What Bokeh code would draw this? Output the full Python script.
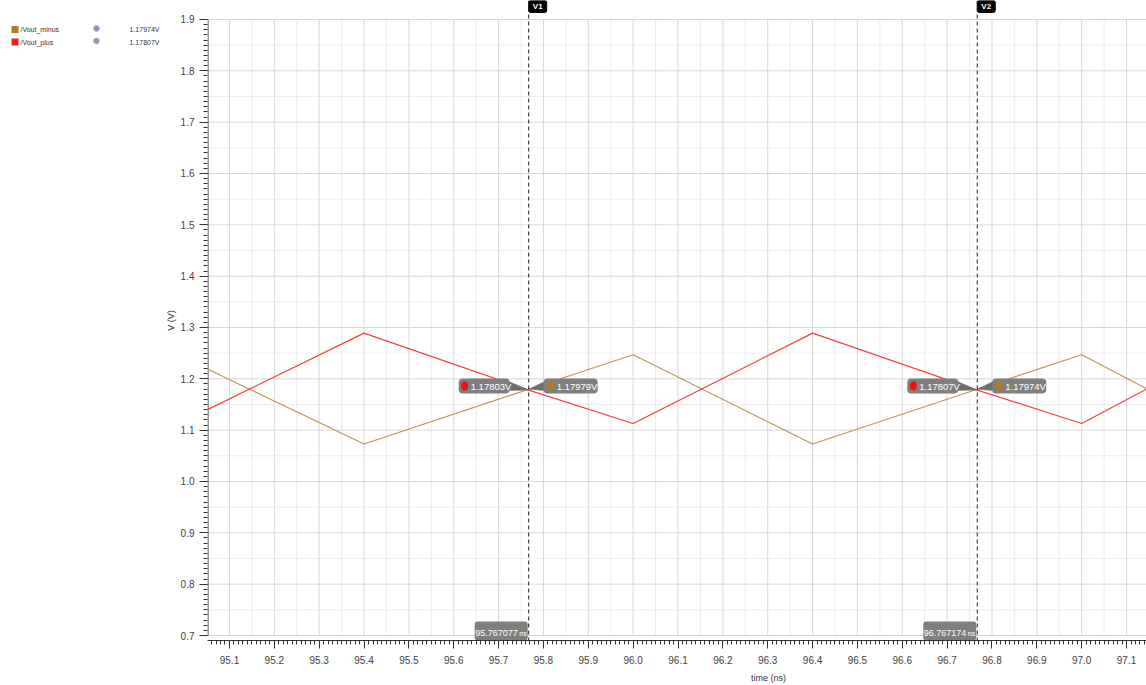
from bokeh.plotting import figure
from bokeh.layouts import row, column
from bokeh.models import Label, Span, FixedTicker, Range1d
from bokeh.embed import file_html
from bokeh.resources import INLINE

# ---- waveform samples (time in ns, voltage in V) ----
t_plus = [95.051, 95.4, 95.767077, 96.0, 96.4, 96.767174, 97.0, 97.1445]
v_plus = [1.140, 1.289, 1.17803, 1.113, 1.289, 1.17807, 1.113, 1.180]

t_minus = [95.051, 95.4, 95.767077, 96.0, 96.4, 96.767174, 97.0, 97.1445]
v_minus = [1.219, 1.073, 1.17979, 1.247, 1.073, 1.17974, 1.247, 1.181]

# vertical cursors and the values read at them
cursor_names = ["V1", "V2"]
cursor_times = [95.767077, 96.767174]
cursor_time_labels = ["95.767077", "96.767174"]
plus_at_cursor = [1.17803, 1.17807]
minus_at_cursor = [1.17979, 1.17974]
plus_at_labels = ["1.17803V", "1.17807V"]
minus_at_labels = ["1.17979V", "1.17974V"]

# legend rows
legend_names = ["/Vout_minus", "/Vout_plus"]
legend_values = ["1.17974V", "1.17807V"]

# axis ticks
x_ticks = [95.1, 95.2, 95.3, 95.4, 95.5, 95.6, 95.7, 95.8, 95.9, 96.0, 96.1,
           96.2, 96.3, 96.4, 96.5, 96.6, 96.7, 96.8, 96.9, 97.0, 97.1]
x_tick_labels = ["95.1", "95.2", "95.3", "95.4", "95.5", "95.6", "95.7", "95.8",
                 "95.9", "96.0", "96.1", "96.2", "96.3", "96.4", "96.5", "96.6",
                 "96.7", "96.8", "96.9", "97.0", "97.1"]
y_ticks = [0.7, 0.8, 0.9, 1.0, 1.1, 1.2, 1.3, 1.4, 1.5, 1.6, 1.7, 1.8, 1.9]
y_tick_labels = ["0.7", "0.8", "0.9", "1.0", "1.1", "1.2", "1.3", "1.4", "1.5",
                 "1.6", "1.7", "1.8", "1.9"]

PLUS_COLOR = "#ff3b3b"
MINUS_COLOR = "#bf9553"
PLUS_DOT = "#ee1111"
MINUS_DOT = "#b07c28"
FONT = "Liberation Sans"

# ---- page geometry ----
W, H = 1146, 685
LEG_W = 160                 # legend column on the left
FL, FW, FH = 207, 939, 640  # plot frame: left edge, width, height (page px)
MAIN_H = 670                # main figure height (frame + tick labels)
STRIP_H = H - MAIN_H        # strip holding the x-axis title
X0, X1 = 95.051, 97.1445
Y0, Y1 = 0.69026, 1.93701


def xs(px):
    """page x pixel -> time"""
    return X0 + (px - FL) * (X1 - X0) / FW


def dx(px):
    return px * (X1 - X0) / FW


def ys(py):
    """page y pixel -> volts"""
    return Y1 - py * (Y1 - Y0) / FH


def bare(fig):
    fig.axis.visible = False
    fig.grid.visible = False
    fig.outline_line_color = None
    fig.background_fill_color = "white"
    fig.border_fill_color = "white"
    fig.min_border = 0
    return fig


p = figure(width=W - LEG_W, height=MAIN_H, x_range=Range1d(X0, X1),
           y_range=Range1d(Y0, Y1), output_backend="svg", toolbar_location=None,
           min_border_left=FL - LEG_W, min_border_right=0, min_border_top=0,
           min_border_bottom=MAIN_H - FH)
p.outline_line_color = None
p.xgrid.visible = False
p.ygrid.visible = False
p.background_fill_color = "white"
p.border_fill_color = "white"

# ---- grid (limited to the 0.7 .. 1.9 V band) ----
ymin, ymax = y_ticks[0], y_ticks[-1]
minor_y = [y + 0.05 for y in y_ticks[:-1]]
minor_x = [x + 0.05 for x in x_ticks[:-1]]
minor_x = [x for x in minor_x if X0 < x < X1]
p.segment(x0=[X0] * len(minor_y), y0=minor_y, x1=[X1] * len(minor_y), y1=minor_y,
          line_color="#dadada", line_width=1, line_dash="1 1")
p.segment(x0=minor_x, y0=[ymin] * len(minor_x), x1=minor_x, y1=[ymax] * len(minor_x),
          line_color="#dadada", line_width=1, line_dash="1 1")
p.segment(x0=[X0] * len(y_ticks), y0=y_ticks, x1=[X1] * len(y_ticks), y1=y_ticks,
          line_color="#d8d8d8", line_width=1)
p.segment(x0=x_ticks, y0=[ymin] * len(x_ticks), x1=x_ticks, y1=[ymax] * len(x_ticks),
          line_color="#d8d8d8", line_width=1)

# y axis spine, only over the labelled band
p.line([xs(FL + 0.5)] * 2, [ymin, ymax], line_color="#333333", line_width=1)

# ---- waveforms ----
p.line(t_minus, v_minus, line_color=MINUS_COLOR, line_width=1.2)
p.line(t_plus, v_plus, line_color=PLUS_COLOR, line_width=1.2)

# ---- axes ----
xa = p.xaxis[0]
xa.ticker = FixedTicker(ticks=x_ticks,
                        minor_ticks=[round(95.05 + 0.01 * i, 2) for i in range(211)])
xa.major_label_overrides = {t: s for t, s in zip(x_ticks, x_tick_labels)}
ya = p.yaxis[0]
ya.ticker = FixedTicker(ticks=y_ticks,
                        minor_ticks=[round(0.7 + 0.01 * i, 2) for i in range(121)])
ya.major_label_overrides = {t: s for t, s in zip(y_ticks, y_tick_labels)}
ya.axis_label = "V (V)"
for ax in (xa, ya):
    ax.major_tick_in = 0
    ax.minor_tick_in = 0
    ax.major_tick_out = 8
    ax.minor_tick_out = 4
    ax.major_tick_line_color = "#333333"
    ax.minor_tick_line_color = "#333333"
    ax.major_label_text_font = FONT
    ax.major_label_text_font_size = "10px"
    ax.major_label_text_color = "#444444"
    ax.axis_label_text_font = FONT
    ax.axis_label_text_font_size = "9px"
    ax.axis_label_text_font_style = "normal"
    ax.axis_label_text_color = "#333333"
xa.axis_line_color = "#333333"
ya.axis_line_color = None
xa.major_label_standoff = 7
ya.major_label_standoff = 5
ya.axis_label_standoff = 2

# ---- cursors ----
for name, t, tlab, vp, vm, lp, lm in zip(cursor_names, cursor_times, cursor_time_labels,
                                         plus_at_cursor, minus_at_cursor,
                                         plus_at_labels, minus_at_labels):
    p.add_layout(Span(location=t, dimension="height", line_color="#222222",
                      line_width=1, line_dash="4 3"))
    # name tag on top
    p.quad(left=t, right=t + dx(18), top=ys(0), bottom=ys(12),
           fill_color="black", line_color="black", border_radius=2)
    p.add_layout(Label(x=t + dx(9), y=ys(6), text=name, text_color="white",
                       text_font=FONT, text_font_size="8px", text_font_style="bold",
                       text_align="center", text_baseline="middle"))
    # time readout at the bottom
    p.quad(left=t - dx(54), right=t - dx(1), top=ys(621), bottom=ys(640),
           fill_color="#7f7f7f", line_color=None, border_radius=3)
    p.add_layout(Label(x=t - dx(11), y=ys(632), text=tlab, text_color="white",
                       text_font=FONT, text_font_size="9px",
                       text_align="right", text_baseline="middle"))
    p.add_layout(Label(x=t - dx(2), y=ys(632.5), text="ns", text_color="white",
                       text_font=FONT, text_font_size="7px",
                       text_align="right", text_baseline="middle"))
    # value readouts with pointers to the crossing
    yc_top, yc_bot, yc_mid = ys(378), ys(393), ys(385.5)
    p.patch([t - dx(20), t - dx(20), t], [ys(381), ys(390), vp],
            fill_color="#6e6e6e", line_color="#6e6e6e", line_width=0.5)
    p.patch([t + dx(16), t + dx(16), t], [ys(381), ys(390), vm],
            fill_color="#6e6e6e", line_color="#6e6e6e", line_width=0.5)
    p.quad(left=t - dx(70), right=t - dx(19), top=yc_top, bottom=yc_bot,
           fill_color="#7f7f7f", line_color=None, border_radius=4)
    p.quad(left=t + dx(15), right=t + dx(69), top=yc_top, bottom=yc_bot,
           fill_color="#7f7f7f", line_color=None, border_radius=4)
    p.ellipse(x=[t - dx(64)], y=[yc_mid], width=dx(7), height=(Y1 - Y0) * 9 / FH,
              fill_color=PLUS_DOT, line_color=None)
    p.ellipse(x=[t + dx(22)], y=[yc_mid], width=dx(7), height=(Y1 - Y0) * 9 / FH,
              fill_color=MINUS_DOT, line_color=None)
    p.add_layout(Label(x=t - dx(58), y=yc_mid, text=lp, text_color="white",
                       text_font=FONT, text_font_size="9.5px",
                       text_align="left", text_baseline="middle"))
    p.add_layout(Label(x=t + dx(28), y=yc_mid, text=lm, text_color="white",
                       text_font=FONT, text_font_size="9.5px",
                       text_align="left", text_baseline="middle"))

# ---- legend column (page pixel coordinates) ----
leg = bare(figure(width=LEG_W, height=H, x_range=Range1d(0, LEG_W),
                  y_range=Range1d(H, 0), output_backend="svg",
                  toolbar_location=None))
for i, (nm, val, col) in enumerate(zip(legend_names, legend_values,
                                       [MINUS_DOT, "#ff1a1a"])):
    yrow = 29 + 12.5 * i
    leg.rect(x=[14.5], y=[yrow], width=7, height=7, fill_color=col, line_color=None)
    leg.add_layout(Label(x=20, y=yrow, text=nm, text_color="#333333",
                         text_font=FONT, text_font_size="7px",
                         text_align="left", text_baseline="middle"))
    leg.scatter(x=[96], y=[yrow - 1], size=6, marker="circle",
                fill_color="#8797b5", line_color="#b9c3d6", line_width=1)
    leg.add_layout(Label(x=LEG_W - 1, y=yrow, text=val, text_color="#333333",
                         text_font=FONT, text_font_size="7px",
                         text_align="right", text_baseline="middle"))

# ---- x-axis title strip under the plot ----
strip = bare(figure(width=W - LEG_W, height=STRIP_H, x_range=Range1d(LEG_W, W),
                    y_range=Range1d(STRIP_H, 0), output_backend="svg",
                    toolbar_location=None))
strip.add_layout(Label(x=749, y=7, text="time (ns)", text_color="#333333",
                       text_font=FONT, text_font_size="9px",
                       text_align="center", text_baseline="middle"))

layout = row(leg, column(p, strip, spacing=0), spacing=0)
open("out.html", "w").write(file_html(layout, INLINE))
